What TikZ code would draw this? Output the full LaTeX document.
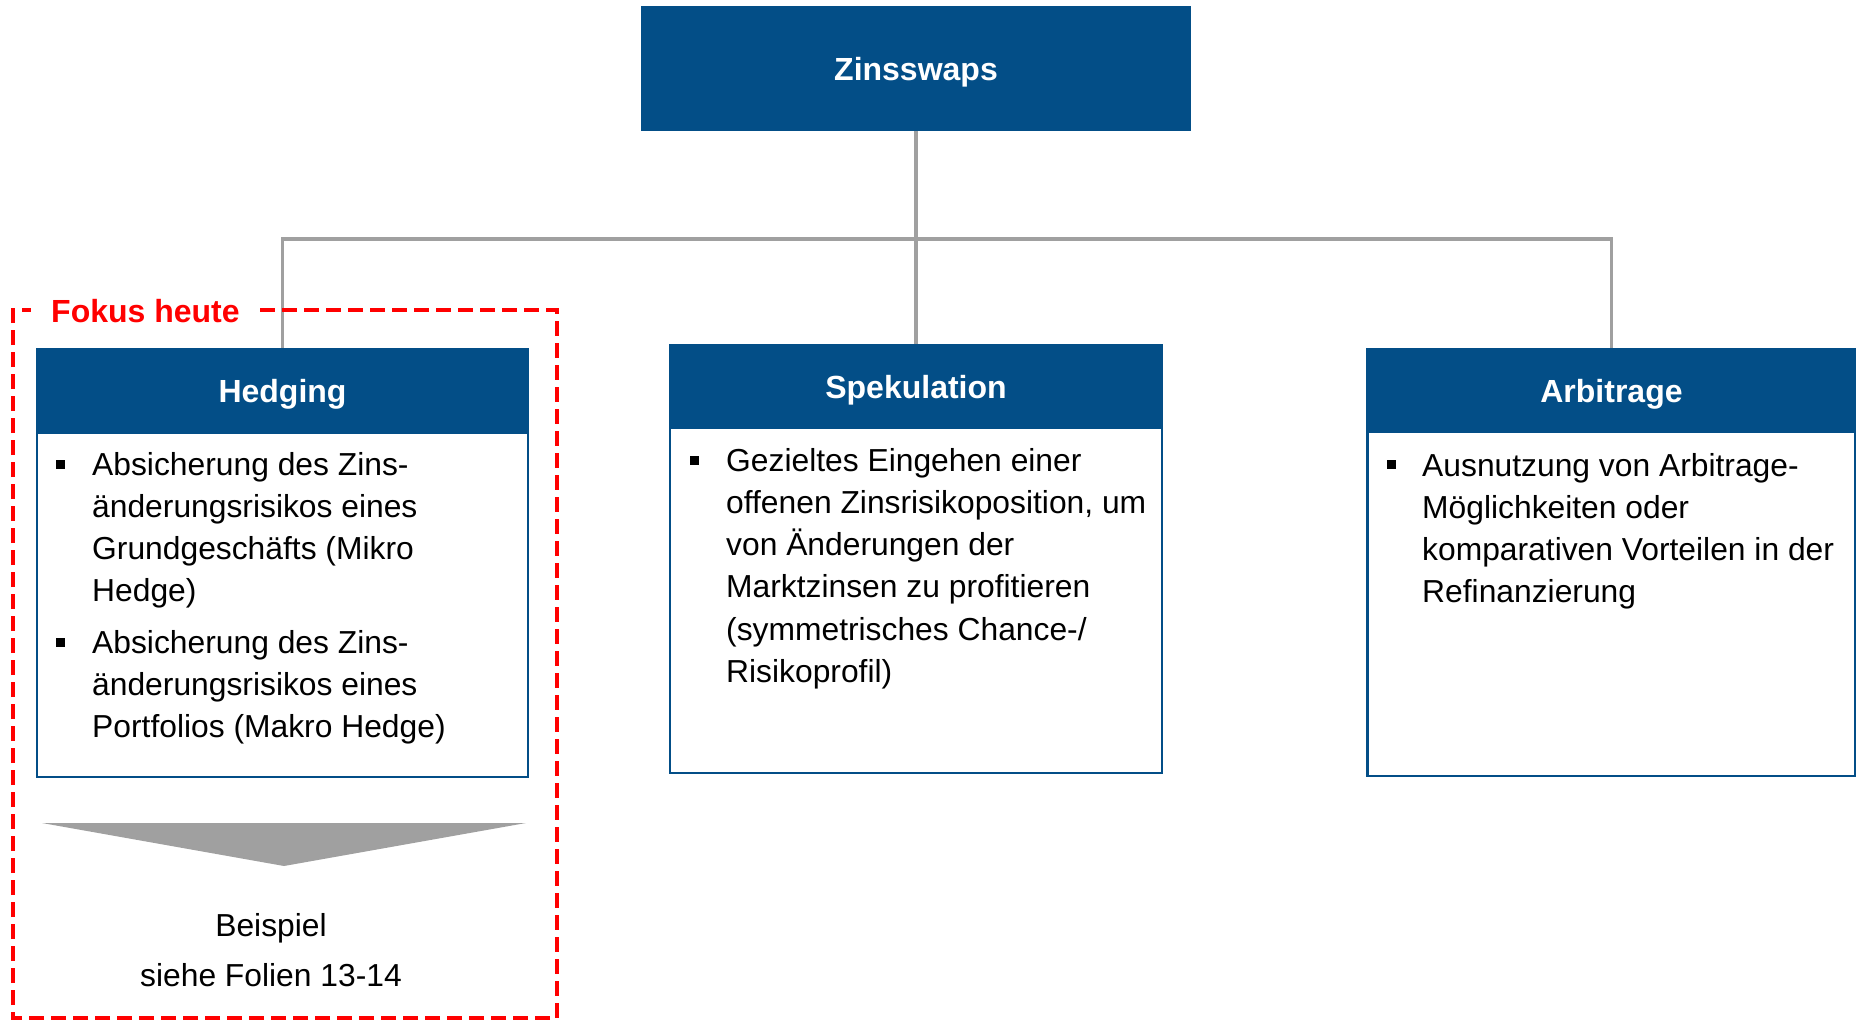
\documentclass[tikz,border=0pt]{standalone}
\usepackage{fontspec}
\setmainfont{Liberation Sans}
\definecolor{myblue}{RGB}{3,78,135}
\definecolor{conngray}{RGB}{160,160,160}
\definecolor{myred}{RGB}{255,0,0}
\tikzset{
  head/.style={rectangle, fill=myblue, draw=myblue, line width=2.5pt, text=white, inner sep=0pt,
    font=\bfseries\fontsize{32}{38}\selectfont, text height=23pt, text depth=0pt},
  bodybox/.style={rectangle, draw=myblue, line width=2.5pt, fill=white, inner sep=0pt},
  bodytext/.style={anchor=base west, inner sep=0pt, font=\fontsize{31.8}{42.3}\selectfont, text=black},
  bul/.style={rectangle, fill=black, inner sep=0pt, minimum size=9pt},
  conn/.style={draw=conngray, line width=3.5pt},
  focus/.style={draw=myred, line width=4pt, dash pattern=on 15pt off 7pt},
}
\begin{document}
\begin{tikzpicture}[x=1pt,y=-1pt]
\useasboundingbox (0,0) rectangle (1856,1020);
\node[head, minimum width=548pt, minimum height=123pt] (top) at (916,68.5) {Zinsswaps};
\coordinate (bus) at (916,239);
% bodies
\node[bodybox, minimum width=491pt, minimum height=428pt] (hbody) at (282.5,563) {};
\node[bodybox, minimum width=492pt, minimum height=428pt] (sbody) at (916,559) {};
\node[bodybox, minimum width=488pt, minimum height=427pt] (abody) at (1611.5,562.5) {};
% headers
\node[head, minimum width=491pt, minimum height=84pt] (hhead) at (282.5,391) {Hedging};
\node[head, minimum width=492pt, minimum height=83pt] (shead) at (916,386.5) {Spekulation};
\node[head, minimum width=488pt, minimum height=83pt] (ahead) at (1611.5,390.5) {Arbitrage};
\draw[conn] (top.south) -- (bus);
\draw[conn] (bus) -| (hhead.north);
\draw[conn] (bus) -- (shead.north);
\draw[conn] (bus) -| (ahead.north);
% Hedging text
\node[bul] (hb1) at (60.5,464) {};
\node[bodytext] (ht1) at (92,475) {\vtop{\hbox{Absicherung des Zins-}\hbox{änderungsrisikos eines}\hbox{Grundgeschäfts (Mikro}\hbox{Hedge)}}};
\node[bul] (hb2) at (60.5,642) {};
\node[bodytext] (ht2) at (92,653) {\vtop{\hbox{Absicherung des Zins-}\hbox{änderungsrisikos eines}\hbox{Portfolios (Makro Hedge)}}};
% Spekulation text
\node[bul] (sb1) at (694,460) {};
\node[bodytext] (st1) at (726,471) {\vtop{\hbox{Gezieltes Eingehen einer}\hbox{offenen Zinsrisikoposition, um}\hbox{von Änderungen der}\hbox{Marktzinsen zu profitieren}\hbox{(symmetrisches Chance-/}\hbox{Risikoprofil)}}};
% Arbitrage text
\node[bul] (ab1) at (1391,464) {};
\node[bodytext] (at1) at (1422,476) {\vtop{\hbox{Ausnutzung von Arbitrage-}\hbox{Möglichkeiten oder}\hbox{komparativen Vorteilen in der}\hbox{Refinanzierung}}};
% arrow triangle
\fill[conngray] (42,823) -- (526,823) -- (284,866) -- cycle;
\node[anchor=base, inner sep=0pt, font=\fontsize{31.8}{38}\selectfont] (bsp1) at (271,936) {Beispiel};
\node[anchor=base, inner sep=0pt, font=\fontsize{31.8}{38}\selectfont] (bsp2) at (271,986) {siehe Folien 13-14};
% focus frame
\draw[focus] (260,310) -- (557,310) -- (557,1018) -- (13,1018) -- (13,310) -- (31,310);
\node[anchor=base west, inner sep=0pt, text=myred, font=\bfseries\fontsize{32}{38}\selectfont] (fokus) at (51,322) {Fokus heute};
\end{tikzpicture}
\end{document}
